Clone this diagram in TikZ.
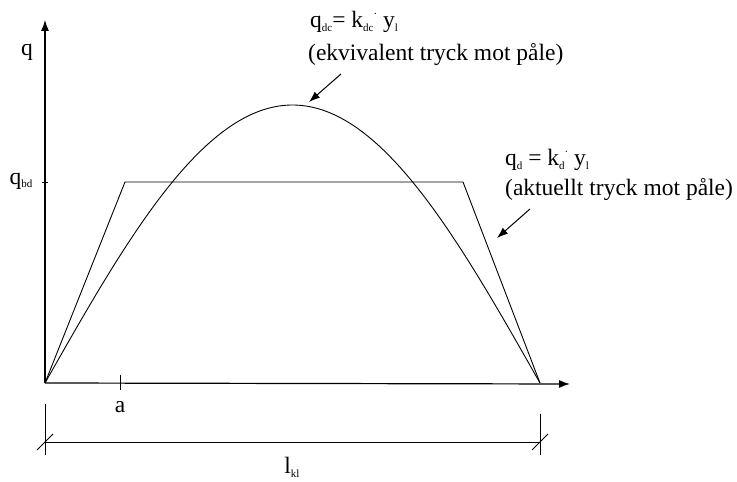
\documentclass[tikz,border=0pt]{standalone}
\usepackage{fontspec}
\setmainfont{Liberation Serif}
\usetikzlibrary{arrows.meta}
\newcommand\sbs[1]{\raisebox{-0.35ex}{\fontsize{11}{11}\selectfont #1}}
\newcommand\sps[1]{\raisebox{0.9ex}{\fontsize{11}{11}\selectfont #1}}
\begin{document}
\begin{tikzpicture}[x=1pt,y=1pt,
  axis/.style={line width=1.2pt,-{Latex[length=11pt,width=8pt]}},
  curve/.style={line width=0.9pt},
  thin/.style={line width=0.8pt},
  callout/.style={line width=1pt,-{Latex[length=11pt,width=8pt]}},
  lbl/.style={font=\fontsize{23.5}{26}\selectfont,inner sep=0pt}]
\useasboundingbox (0,0) rectangle (737,482);
% key points
\coordinate (O) at (45,99);
\coordinate (E) at (540,99);
\coordinate (Ytip) at (45,462);
\coordinate (Xtip) at (570,98);
\coordinate (T1) at (125,300);
\coordinate (T2) at (463,300);
% axes
\draw[axis] (O) -- (Ytip);
\draw[axis] (O) -- (Xtip);
% trapezoid
\draw[curve,line join=miter] (O) -- (T1) -- (T2) -- (E);
% sine-shaped curve
\draw[curve] plot[domain=0:180,samples=90] ({45+2.75*\x},{99+278*sin(\x)});
% ticks
\coordinate (QB) at (45,300);
\draw[thin] ([xshift=-3pt]QB) -- ([xshift=3pt]QB);
\coordinate (A) at (120,99);
\draw[thin] ([yshift=8pt]A) -- ([yshift=-7pt]A);
% labels on axes
\node[lbl] (q) at (27,430) {q};
\node[lbl] (qbd) at (21,301) {q\sbs{bd}};
\node[lbl] (a) at (120,75) {a};
% dimension line
\coordinate (D1) at (45,40);
\coordinate (D2) at (540,40);
\draw[thin] (45,78) -- (45,27);
\draw[thin] (540,68) -- (540,27);
\draw[thin] (D1) -- (D2);
\draw[thin] ([shift={(-8,-8)}]D1) -- ([shift={(8,8)}]D1);
\draw[thin] ([shift={(-8,-8)}]D2) -- ([shift={(8,8)}]D2);
\node[lbl] (lkl) at (292,15) {l\sbs{kl}};
% annotation 1
\node[lbl,anchor=west] (t1a) at (310,460) {q\sbs{dc}= k\sbs{dc}\sps{·} y\sbs{l}};
\node[lbl,anchor=west] (t1b) at (308,427) {(ekvivalent tryck mot påle)};
\coordinate (a1s) at (341,408);
\coordinate (a1e) at (309,380);
\draw[callout] (a1s) -- (a1e);
% annotation 2
\node[lbl,anchor=west] (t2a) at (505,322) {q\sbs{d} = k\sbs{d}\sps{·} y\sbs{l}};
\node[lbl,anchor=west] (t2b) at (505,292) {(aktuellt tryck mot påle)};
\coordinate (a2s) at (530,273);
\coordinate (a2e) at (497,244);
\draw[callout] (a2s) -- (a2e);
\end{tikzpicture}
\end{document}
